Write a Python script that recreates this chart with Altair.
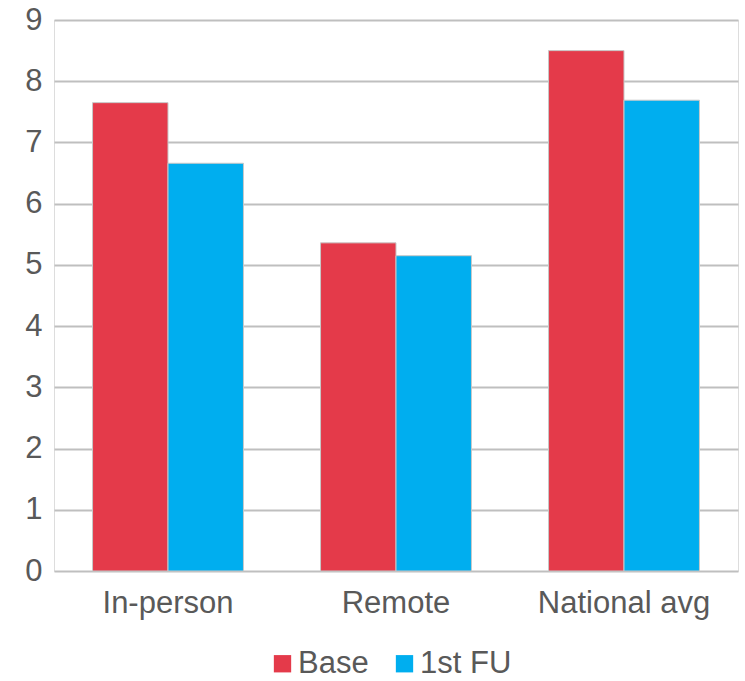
import altair as alt
import pandas as pd

# Mean scores by setting, at baseline and at first follow-up
categories = ["In-person", "Remote", "National avg"]
series = ["Base", "1st FU"]
base_values = [7.65, 5.36, 8.50]
fu_values = [6.66, 5.15, 7.69]
colors = ["#E43A4A", "#00AEEF"]
y_ticks = list(range(0, 10))

rows = []
for cat, b, f in zip(categories, base_values, fu_values):
    rows.append({"setting": cat, "series": series[0], "value": b})
    rows.append({"setting": cat, "series": series[1], "value": f})
df = pd.DataFrame(rows)

font = "Liberation Sans"
text_color = "#595959"
font_size = 31

chart = (
    alt.Chart(df)
    .mark_bar(stroke="#c8c8c8", strokeWidth=1)
    .encode(
        x=alt.X(
            "setting:N",
            sort=categories,
            scale=alt.Scale(paddingInner=0.338, paddingOuter=0.169),
            axis=alt.Axis(
                title=None,
                labelAngle=0,
                labelFontSize=font_size,
                labelFont=font,
                labelColor=text_color,
                labelPadding=17,
                ticks=False,
                domain=False,
            ),
        ),
        xOffset=alt.XOffset("series:N", sort=series, scale=alt.Scale(paddingInner=0, paddingOuter=0)),
        y=alt.Y(
            "value:Q",
            scale=alt.Scale(domain=[0, 9], nice=False),
            axis=alt.Axis(
                title=None,
                values=y_ticks,
                labelFontSize=font_size,
                labelFont=font,
                labelColor=text_color,
                labelPadding=12,
                ticks=False,
                domain=False,
                grid=True,
                gridColor="#bfbfbf",
                gridWidth=2,
            ),
        ),
        color=alt.Color(
            "series:N",
            sort=series,
            scale=alt.Scale(domain=series, range=colors),
            legend=alt.Legend(
                title=None,
                orient="none",
                direction="horizontal",
                legendX=213,
                legendY=628,
                padding=0,
                symbolType="square",
                symbolSize=300,
                symbolStrokeWidth=0,
                symbolOffset=0,
                labelFontSize=font_size,
                labelFont=font,
                labelColor=text_color,
                labelOffset=0,
                columnPadding=20,
            ),
        ),
    )
    .properties(
        width=684,
        height=551,
        autosize=alt.AutoSizeParams(type="none"),
        padding={"left": 54, "top": 20, "right": 7, "bottom": 110},
    )
    .configure_view(stroke=None)
    .configure(background="white")
)

chart.save("out.html", embed_options={"renderer": "svg", "actions": False})
